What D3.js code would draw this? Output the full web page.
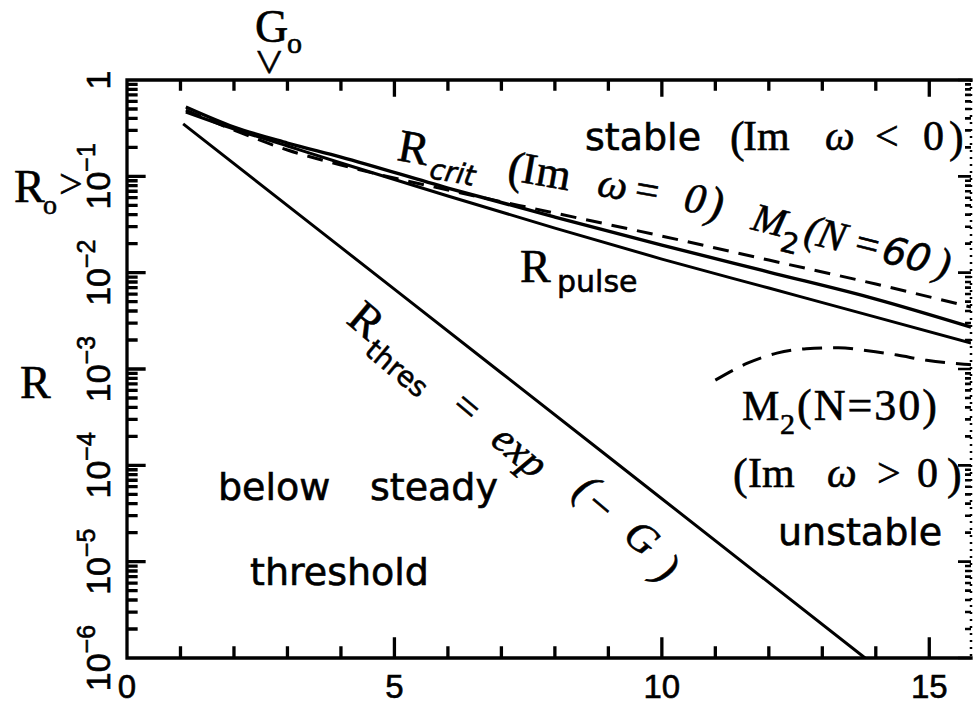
<!DOCTYPE html>
<html>
<head>
<meta charset="utf-8">
<script src="https://cdn.jsdelivr.net/npm/d3@7"></script>
<style>
  html, body { margin: 0; padding: 0; background: #fff; }
  svg { display: block; }
  text { fill: #000; stroke: #000; stroke-width: 0.6px; }
</style>
</head>
<body>
<svg id="chart" width="975" height="706"></svg>
<script>
// Gain G (horizontal) and reflectivity R (logarithmic vertical) for the stability regions.
const gCurve = [1.1, 2, 3, 4, 6, 8, 10, 12, 14, 15.78];
const rCrit  = [0.5243, 0.3250, 0.2217, 0.1586, 0.0756, 0.03779, 0.01934, 0.01014, 0.00532, 0.002723];
const rPulse = [0.4653, 0.3099, 0.2064, 0.1374, 0.06243, 0.02904, 0.01384, 0.00692, 0.003458, 0.001857];
const rM2N60 = [0.4881, 0.3026, 0.1875, 0.1310, 0.07206, 0.04158, 0.02399, 0.01351, 0.007614, 0.004393];

const gThres = [1.05, 4, 7, 10, 13.8];
const rThres = [0.35, 0.0183, 9.1e-4, 4.5e-5, 1.0e-6];

const gM2N30 = [11.0, 11.6, 12.15, 12.7, 13.3, 13.85, 14.4, 14.95, 15.65, 15.78];
const rM2N30 = [7.67e-4, 1.148e-3, 1.462e-3, 1.622e-3, 1.66e-3, 1.549e-3, 1.396e-3, 1.23e-3, 1.122e-3, 1.11e-3];

// Operating point markers
const G0 = 2.65;
const R0 = 0.085;

// Axis ticks
const xLabelTicks = [0, 5, 10, 15];
const xMajorTicks = [5, 10, 15];
const xMinorTicks = [1, 2, 3, 4, 6, 7, 8, 9, 11, 12, 13, 14];
const yMajorTicks = [1, 1e-1, 1e-2, 1e-3, 1e-4, 1e-5, 1e-6];
const yExponents  = [0, -1, -2, -3, -4, -5, -6];
const yMinorTicks = [];
for (let e = -6; e < 0; e++) for (let m = 2; m <= 9; m++) yMinorTicks.push(m * Math.pow(10, e));

// ---------------------------------------------------------------
const SANS = "'DejaVu Sans', sans-serif";
const NUM = "'Liberation Sans', Arial, sans-serif";
const SERIF = "'Liberation Serif', 'Times New Roman', serif";

const svg = d3.select("#chart");
const L = 127, T = 80, R = 971, B = 658;

const xs = d3.scaleLinear().domain([0, 15.78]).range([L, R]);
const ys = d3.scaleLog().domain([1e-6, 1]).range([B, T]);

svg.append("defs").append("clipPath").attr("id", "plot")
  .append("rect").attr("x", L).attr("y", T).attr("width", R - L).attr("height", B - T);

// ---- frame (left, top, bottom) with its inward ticks as one path
const fp = d3.path();
fp.moveTo(R, T); fp.lineTo(L, T); fp.lineTo(L, B); fp.lineTo(R, B);
xMinorTicks.forEach(v => {
  fp.moveTo(xs(v), B); fp.lineTo(xs(v), B - 10);
  fp.moveTo(xs(v), T); fp.lineTo(xs(v), T + 9);
});
xMajorTicks.forEach(v => {
  fp.moveTo(xs(v), B); fp.lineTo(xs(v), B - 19);
  fp.moveTo(xs(v), T); fp.lineTo(xs(v), T + 15);
});
yMinorTicks.forEach(v => { fp.moveTo(L, ys(v)); fp.lineTo(L + 9, ys(v)); });
yMajorTicks.forEach(v => { fp.moveTo(L, ys(v)); fp.lineTo(L + 17, ys(v)); });
svg.append("path").attr("d", fp.toString())
  .attr("fill", "none").attr("stroke", "#000").attr("stroke-width", 3.3)
  .attr("stroke-linejoin", "miter").attr("stroke-linecap", "square");

// right side: broken border with its own ticks
svg.append("line").attr("x1", R).attr("y1", T).attr("x2", R).attr("y2", B)
  .attr("stroke", "#000").attr("stroke-width", 2.5).attr("stroke-dasharray", "2,5");
const rp = d3.path();
yMinorTicks.forEach(v => { rp.moveTo(R, ys(v)); rp.lineTo(R - 6, ys(v)); });
yMajorTicks.forEach(v => { rp.moveTo(R, ys(v)); rp.lineTo(R - 13, ys(v)); });
svg.append("path").attr("d", rp.toString())
  .attr("fill", "none").attr("stroke", "#000").attr("stroke-width", 2.6);

// ---- tick labels
svg.append("g").selectAll("text").data(xLabelTicks).join("text")
  .attr("x", d => xs(d)).attr("y", 698)
  .attr("text-anchor", "middle")
  .attr("font-family", NUM).attr("font-size", 33)
  .text(d => d);

const yl = svg.append("g").selectAll("text").data(yMajorTicks).join("text")
  .attr("transform", d => `translate(110,${ys(d)}) rotate(-90)`)
  .attr("text-anchor", "middle")
  .attr("font-family", NUM).attr("font-size", 34);
yl.each(function (d, i) {
  const t = d3.select(this);
  if (yExponents[i] === 0) { t.text("1"); return; }
  t.append("tspan").text("10");
  t.append("tspan").attr("font-size", 25).attr("dy", -15).text("\u2212" + (-yExponents[i]));
});

// ---- curves
const line = d3.line().x(d => xs(d[0])).y(d => ys(d[1])).curve(d3.curveMonotoneX);
const curves = svg.append("g").attr("clip-path", "url(#plot)")
  .attr("fill", "none").attr("stroke", "#000").attr("stroke-width", 3);

curves.append("path").attr("d", line(d3.zip(gThres, rThres)));
curves.append("path").attr("d", line(d3.zip(gCurve, rPulse)));
curves.append("path").attr("d", line(d3.zip(gCurve, rCrit))).attr("stroke-width", 3.4);
curves.append("path").attr("d", line(d3.zip(gCurve, rM2N60))).attr("stroke-dasharray", "16,10");
curves.append("path").attr("d", line(d3.zip(gM2N30, rM2N30))).attr("stroke-dasharray", "20,11");

// ---- annotation helper: pieces = [text, localX, baselineShift, family, size, italic]
function label(px, py, angle, pieces) {
  const t = svg.append("text")
    .attr("transform", `translate(${px},${py}) rotate(${angle})`);
  pieces.forEach(([s, lx, b, fam, size, it]) => {
    t.append("tspan").attr("x", lx).attr("y", b)
      .attr("font-family", fam).attr("font-size", size)
      .attr("font-style", it ? "italic" : "normal")
      .text(s);
  });
  return t;
}

// axis titles and markers
label(20, 398, 0, [["R", 0, 0, SERIF, 46]]);
label(14, 202, 0, [["R", 0, 0, SERIF, 46], ["o", 29, 12, SERIF, 28]]);
svg.append("text").attr("transform", `translate(59,${ys(R0) + 15})`)
  .attr("font-family", SERIF).attr("font-size", 42).text(">");
label(255, 42, 0, [["G", 0, 0, SERIF, 46], ["o", 32, 11, SERIF, 30]]);
svg.append("text").attr("transform", `translate(${xs(G0)},62) rotate(90)`)
  .attr("text-anchor", "middle").attr("dy", "0.33em")
  .attr("font-family", SERIF).attr("font-size", 48).text(">");

// region labels
label(585, 150, 0, [
  ["stable", 0, 0, SANS, 38],
  ["(", 145, 2, SERIF, 44], ["Im", 158, 0, SERIF, 42], ["\u03c9", 240, 0, SERIF, 42, true],
  ["<", 290, 0, SERIF, 42], ["0", 338, 0, SERIF, 42], [")", 364, 2, SERIF, 44]
]);
label(396, 160, 10, [
  ["R", 0, 0, SERIF, 46], ["crit", 35, 12, SANS, 28, true],
  ["(", 112, 2, SERIF, 46], ["Im", 126, 0, SERIF, 44], ["\u03c9", 203, 0, SERIF, 42, true],
  ["=", 241, 0, SERIF, 42], ["0", 291, 0, SERIF, 42, true], [")", 315, 2, SERIF, 46, true]
]);
label(750, 229, 14, [
  ["M", 0, 0, SERIF, 40, true], ["2", 33, 14, SANS, 28],
  ["(", 54, 0, SERIF, 42, true], ["N", 67, 0, SERIF, 42, true], ["=", 106, 0, SERIF, 42],
  ["60", 134, 0, SANS, 38, true], [")", 189, 0, SERIF, 42, true]
]);
label(520, 282, 0, [["R", 0, 0, SERIF, 46], ["pulse", 37, 10, SANS, 30]]);
label(345, 322, 40, [
  ["R", 0, 0, SERIF, 46], ["thres", 34, 12, SANS, 28],
  ["=", 136, 0, SERIF, 42], ["exp", 188, 0, SERIF, 42, true],
  ["(", 284, -14, SERIF, 44, true], ["\u2212", 302, -10, SERIF, 42], ["G", 351, -12, SERIF, 42, true],
  [")", 398, -4, SERIF, 44, true]
]);
label(218, 500, 0, [["below", 0, 0, SANS, 38], ["steady", 152, 0, SANS, 38]]);
label(250, 585, 0, [["threshold", 0, 0, SANS, 38]]);
label(742, 420, 0, [
  ["M", 0, 0, SERIF, 42], ["2", 38, 14, SERIF, 30], ["(N=30)", 55, 0, SERIF, 44]
]).select("tspan:last-child").attr("letter-spacing", 2);
label(733, 487, 0, [
  ["(", 0, 2, SERIF, 44], ["Im", 15, 0, SERIF, 42], ["\u03c9", 94, 0, SERIF, 42, true],
  [">", 144, 0, SERIF, 42], ["0", 184, 0, SERIF, 42], [")", 214, 2, SERIF, 44]
]);
label(778, 545, 0, [["unstable", 0, 0, SANS, 38]]);
</script>
</body>
</html>
